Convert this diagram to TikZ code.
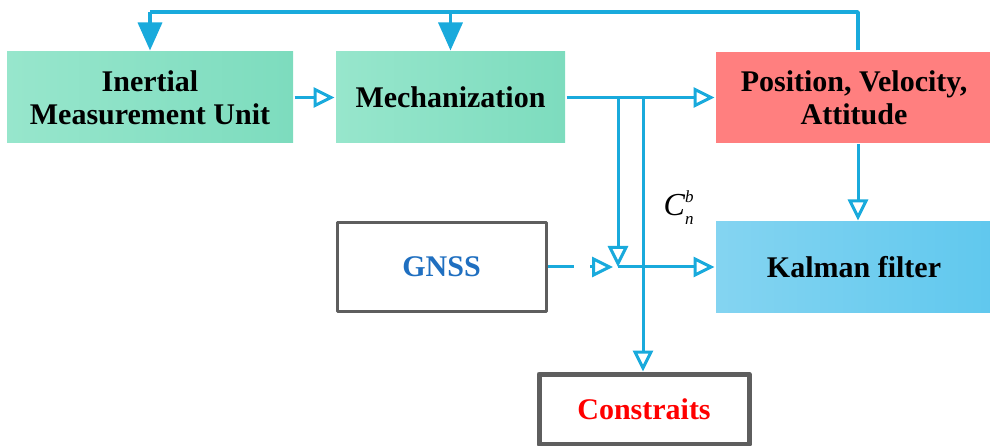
\documentclass[tikz,border=0pt]{standalone}
\usepackage{fontspec}
\setmainfont{Liberation Serif}
\usetikzlibrary{arrows.meta,positioning}
\definecolor{lineblue}{HTML}{19AADC}
\definecolor{boxgray}{HTML}{5E5E5E}
\definecolor{gnssblue}{HTML}{1F6FC0}
\definecolor{greenA}{RGB}{151,230,204}
\definecolor{greenB}{RGB}{125,220,190}
\definecolor{pvared}{RGB}{255,127,127}
\definecolor{kfA}{RGB}{132,212,241}
\definecolor{kfB}{RGB}{96,200,238}

\begin{document}
\begin{tikzpicture}[x=1pt, y=-1pt, line width=3pt, line join=round,
  blk/.style={inner sep=0pt, align=center, font=\fontsize{30}{35}\selectfont\bfseries},
  greenblk/.style={blk, left color=greenA, right color=greenB},
  flow/.style={draw=lineblue, line width=3pt, -{Triangle[open, length=21pt, width=20pt, line width=3pt]}},
  feed/.style={draw=lineblue, line width=3.5pt, -{Triangle[length=28pt, width=24pt]}}]

  %% ==== boxes ====
  \node[greenblk, minimum width=286, minimum height=91] (imu) at (150,97.5) {Inertial\\[-2pt]Measurement Unit};
  \node[greenblk, minimum width=229, minimum height=91] (mech) at (450.5,97.5) {Mechanization};
  \node[blk, minimum width=276, minimum height=91, fill=pvared] (pva) at (854,97.5) {Position, Velocity,\\[-2pt]Attitude};
  \node[blk, minimum width=276, minimum height=90, left color=kfA, right color=kfB] (kf) at (854,267) {Kalman filter};
  \node[blk, minimum width=209, minimum height=88, draw=boxgray, line width=3pt, text=gnssblue] (gnss) at (441.5,267) {GNSS};
  \node[blk, minimum width=210, minimum height=70, draw=boxgray, line width=5pt, text=red] (cons) at (644,409) {Constraits};

  %% ==== junctions ====
  \coordinate (top) at (858,12);
  \coordinate (ja) at (618,97.5);
  \coordinate (jb) at (643,97.5);
  \coordinate (jc) at (618,267);
  \coordinate (sw1) at (574,267);
  \coordinate (sw2) at (590,267);

  %% ==== feedback on top ====
  \draw[draw=lineblue, line width=3.5pt] (pva.north -| top) -- (top) -- (top -| imu.north);
  \draw[feed] (top -| imu.north) -- (imu.north);
  \draw[feed] (top -| mech.north) -- (mech.north);

  %% ==== forward lines ====
  \draw[flow] (imu.east) -- (mech.west);
  \draw[flow] (mech.east) -- (pva.west);
  \draw[flow] (ja) -- (jc);
  \draw[flow] (jc) -- (jc -| kf.west);
  \draw[flow] (jb) -- (jb |- cons.north);
  \draw[flow] (pva.south -| top) -- (kf.north -| top);

  %% ==== switch from GNSS ====
  \draw[draw=lineblue] (gnss.east |- sw1) -- (sw1);
  \draw[flow] (sw2) -- (613,267);

  %% ==== label ====
  \node[font=\fontsize{32}{36}\selectfont, inner sep=0pt, anchor=west] (cnb) at (662,208)
    {\textit{C}\makebox[0pt][l]{\raisebox{13pt}{\fontsize{17}{17}\selectfont\textit{b}}}\raisebox{-9pt}{\fontsize{17}{17}\selectfont\textit{n}}};

  \pgfresetboundingbox
  \path[use as bounding box] (0,0) rectangle (990,446);
\end{tikzpicture}
\end{document}
